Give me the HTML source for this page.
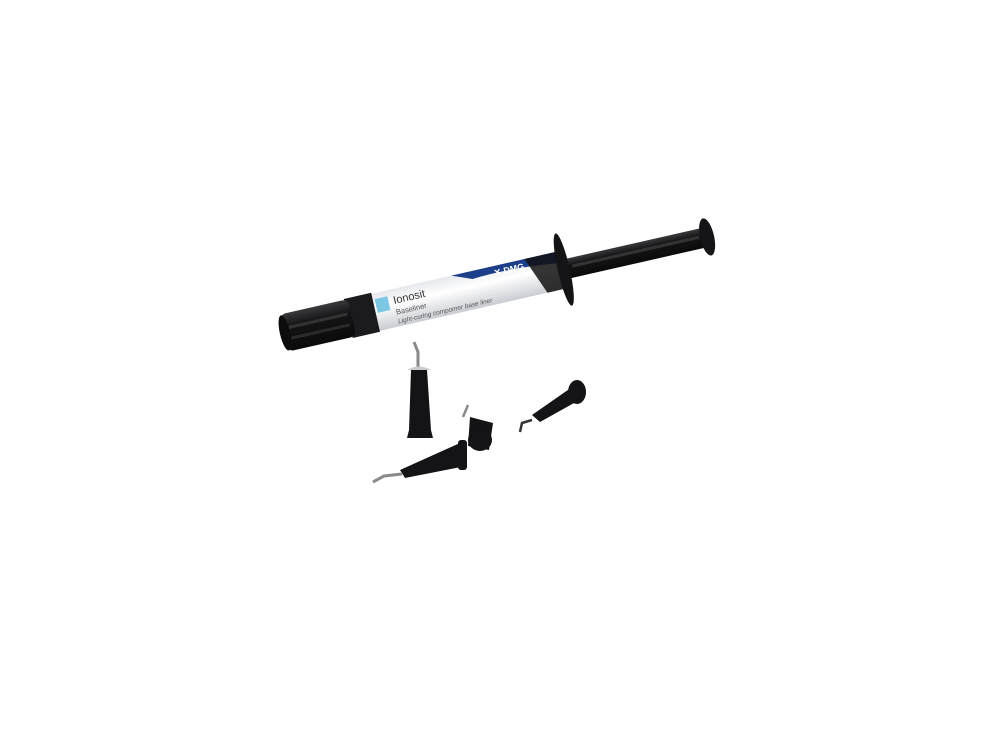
<!DOCTYPE html>
<html><head><style>html,body{margin:0;background:#fff;width:1000px;height:738px;overflow:hidden}</style></head>
<body>
<svg width="1000" height="738" viewBox="0 0 1000 738" xmlns="http://www.w3.org/2000/svg">
<defs>
<linearGradient id="blk" x1="0" y1="0" x2="0" y2="1">
<stop offset="0" stop-color="#3a3a3c"/><stop offset="0.35" stop-color="#151517"/><stop offset="1" stop-color="#0a0a0b"/></linearGradient>
<linearGradient id="wht" x1="0" y1="0" x2="0" y2="1">
<stop offset="0" stop-color="#e6e8ec"/><stop offset="0.4" stop-color="#ffffff"/><stop offset="1" stop-color="#c9ccd2"/></linearGradient>
</defs>
<g transform="translate(280,334) rotate(-12.8)">
<rect x="290" y="-10" width="148" height="20" fill="url(#blk)"/>
<rect x="300" y="-3" width="130" height="3" fill="#333"/>
<ellipse cx="438" cy="0" rx="7" ry="19" fill="#151517"/>
<rect x="95" y="-19" width="195" height="38" fill="url(#wht)"/>
<path d="M180,-19 L290,-19 L290,-7 Q240,-14 200,-11 Z" fill="#1d3f8a"/>
<path d="M255,-19 L290,-19 L290,19 L270,19 Z" fill="#111" opacity="0.85"/>
<text x="222" y="-9" font-family="Liberation Sans,sans-serif" font-size="9" font-weight="bold" fill="#fff">✕ DMG</text>
<rect x="100" y="-13" width="13" height="14" fill="#7cc7e2"/>
<text x="118" y="-4" font-family="Liberation Sans,sans-serif" font-size="11" fill="#333">Ionosit</text>
<text x="118" y="7" font-family="Liberation Sans,sans-serif" font-size="7.5" fill="#555">Baseliner</text>
<text x="118" y="16" font-family="Liberation Sans,sans-serif" font-size="6.5" font-style="italic" fill="#555">Light-curing compomer base liner</text>
<ellipse cx="291" cy="0" rx="6" ry="37" fill="#141416"/>
<rect x="70" y="-20" width="28" height="40" fill="#1b1b1d"/>
<rect x="4" y="-19" width="70" height="38" rx="6" fill="url(#blk)"/>
<rect x="10" y="-6" width="60" height="3" fill="#333"/>
<rect x="10" y="5" width="60" height="3" fill="#2a2a2a"/>
<ellipse cx="5" cy="0" rx="5" ry="18" fill="#0c0c0d"/>
</g>
<g fill="#141416">
<path d="M411,370 L427,370 L431,430 L433,438 L407,438 L409,430 Z"/>
<path d="M418,370 L418,352 L414,342" stroke="#8a8a8a" stroke-width="3" fill="none"/>
<path d="M407,370 Q419,363 431,370" fill="#ccc"/>
<path d="M470,417 L493,423 L489,450 L468,446 Z"/>
<ellipse cx="480" cy="440" rx="12" ry="11"/>
<path d="M463,417 L468,405" stroke="#8a8a8a" stroke-width="2.5" fill="none"/>
<path d="M532,415 L575,385 L583,398 L540,422 Z"/>
<ellipse cx="577" cy="392" rx="9" ry="12"/>
<path d="M532,420 L522,423 L520,432" stroke="#333" stroke-width="2.5" fill="none"/>
<path d="M400,470 L460,443 L466,466 L405,478 Z"/>
<rect x="458" y="440" width="9" height="30" rx="3"/>
<path d="M402,474 L384,476 L373,482" stroke="#8a8a8a" stroke-width="3" fill="none"/>
</g>
</svg>
</body></html>
